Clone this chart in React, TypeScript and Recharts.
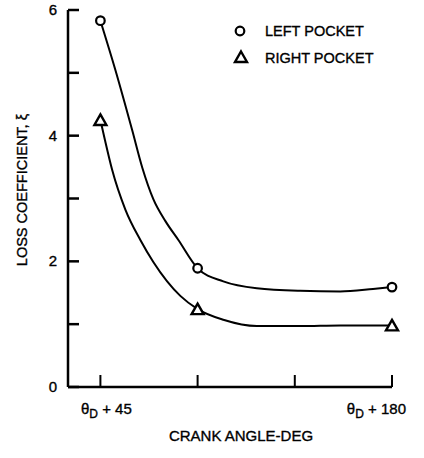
import React from 'react';
import { ComposedChart, Line, Scatter, XAxis, YAxis, Legend } from 'recharts';

// faired curves (angle in deg after θD)
const leftAngle = [45, 51.9, 59.7, 64.4, 69.5, 75.1, 81.1, 90, 101.9, 117.4, 137.5, 156, 171.2, 180];
const leftCurve = [5.83, 5.05, 4.09, 3.49, 2.99, 2.64, 2.34, 1.89, 1.68, 1.57, 1.53, 1.52, 1.56, 1.59];
const rightAngle = [45, 47.1, 50.4, 56.6, 63.5, 69.5, 82, 90, 101.9, 117.4, 137.5, 156, 180];
const rightCurve = [4.25, 3.93, 3.46, 2.82, 2.34, 1.99, 1.45, 1.24, 1.07, 0.97, 0.97, 0.98, 0.98];

// measured points
const pointAngle = [45, 90, 180];
const leftPocket = [5.83, 1.89, 1.59];
const rightPocket = [4.25, 1.24, 0.98];

const xTicks = [45, 90, 135, 180];
const xTickLabels: Record<number, string> = { 45: '45', 180: '180' };
const yTicks = [0, 1, 2, 3, 4, 5, 6];
const yTickLabels: Record<number, string> = { 0: '0', 2: '2', 4: '4', 6: '6' };

const FONT = '"Liberation Sans", Arial, sans-serif';
const INK = '#000';
const textInk = { fill: INK, stroke: INK, strokeWidth: 0.35, fontFamily: FONT };

const toRows = (xs: number[], ys: number[]) => xs.map((x, i) => ({ x, y: ys[i] }));

const leftLine = toRows(leftAngle, leftCurve);
const rightLine = toRows(rightAngle, rightCurve);
const leftPts = toRows(pointAngle, leftPocket);
const rightPts = toRows(pointAngle, rightPocket);

const CircleMark = ({ cx, cy }: any) => (
  <circle cx={cx} cy={cy} r={4.3} fill="#fff" stroke={INK} strokeWidth={2.2} />
);

const TriangleMark = ({ cx, cy }: any) => (
  <polygon
    points={`${cx},${cy - 5.5} ${cx + 6},${cy + 5} ${cx - 6},${cy + 5}`}
    fill="#fff"
    stroke={INK}
    strokeWidth={2.4}
    strokeLinejoin="miter"
  />
);

const XTick = ({ x, y, payload }: any) => {
  const label = xTickLabels[payload.value];
  const last = payload.value === 180;
  return (
    <g>
      <line x1={x} y1={y} x2={x} y2={y - 12} stroke={INK} strokeWidth={2} />
      {label && (
        <text x={last ? x + 14 : x + 6} y={y + 27} textAnchor={last ? 'end' : 'middle'} fontSize={15} {...textInk}>
          θ<tspan dy={4} fontSize={12}>D</tspan>
          <tspan dy={-4}>{' + ' + label}</tspan>
        </text>
      )}
    </g>
  );
};

const YTick = ({ x, y, payload }: any) => {
  const label = yTickLabels[payload.value];
  return (
    <g>
      <line x1={x} y1={y} x2={x + 11} y2={y} stroke={INK} strokeWidth={2.5} />
      {label && (
        <text x={x - 11} y={y + 5} textAnchor="end" fontSize={15} {...textInk}>
          {label}
        </text>
      )}
    </g>
  );
};

const PocketLegend = () => (
  <svg width={180} height={50} style={{ display: 'block', overflow: 'visible' }}>
    <CircleMark cx={14} cy={17} />
    <text x={39} y={22} fontSize={14.5} {...textInk}>LEFT POCKET</text>
    <TriangleMark cx={15} cy={43} />
    <text x={39} y={49} fontSize={14.5} {...textInk}>RIGHT POCKET</text>
  </svg>
);

export default function App() {
  return (
    <div style={{ position: 'absolute', left: 0, top: 0, width: 424, height: 458, background: '#fff' }}>
      <ComposedChart width={424} height={458} margin={{ top: 10, right: 32, bottom: 70, left: 67 }}>
        <XAxis
          dataKey="x"
          type="number"
          domain={[30, 180]}
          ticks={xTicks}
          interval={0}
          height={1}
          tickSize={0}
          tickMargin={0}
          tickLine={false}
          tick={<XTick />}
          axisLine={{ stroke: INK, strokeWidth: 2.5 }}
          allowDuplicatedCategory={false}
        />
        <YAxis
          type="number"
          domain={[0, 6]}
          ticks={yTicks}
          interval={0}
          width={1}
          tickSize={0}
          tickMargin={0}
          tickLine={false}
          tick={<YTick />}
          axisLine={{ stroke: INK, strokeWidth: 2.5 }}
        />
        <Legend
          layout="horizontal"
          verticalAlign="middle"
          align="center"
          content={<PocketLegend />}
          wrapperStyle={{ position: 'absolute', top: 14, left: 226, width: 180, height: 50 }}
        />
        <Line data={leftLine} dataKey="y" type="monotoneX" stroke={INK} strokeWidth={2} dot={false} activeDot={false} isAnimationActive={false} legendType="none" />
        <Line data={rightLine} dataKey="y" type="monotoneX" stroke={INK} strokeWidth={2} dot={false} activeDot={false} isAnimationActive={false} legendType="none" />
        <Scatter data={leftPts} dataKey="y" shape={<CircleMark />} isAnimationActive={false} legendType="none" />
        <Scatter data={rightPts} dataKey="y" shape={<TriangleMark />} isAnimationActive={false} legendType="none" />
      </ComposedChart>
      <svg width={424} height={458} style={{ position: 'absolute', left: 0, top: 0, pointerEvents: 'none' }}>
        <text x={22} y={190} transform="rotate(-90 22 190)" textAnchor="middle" dominantBaseline="central" fontSize={14.5} {...textInk}>
          LOSS COEFFICIENT, ξ
        </text>
        <text x={241} y={441} textAnchor="middle" fontSize={15} {...textInk}>
          CRANK ANGLE-DEG
        </text>
      </svg>
    </div>
  );
}
